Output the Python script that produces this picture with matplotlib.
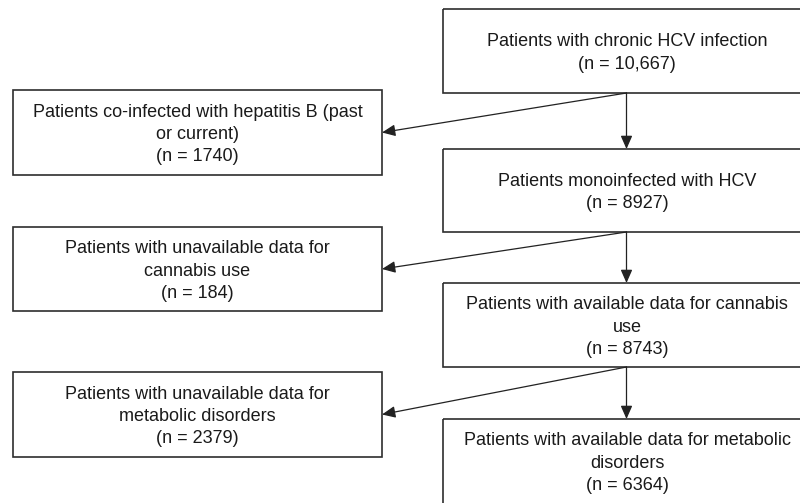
import matplotlib
matplotlib.use("Agg")
import matplotlib.pyplot as plt
from matplotlib.patches import Rectangle, FancyArrowPatch

# Data
main_labels = ["Patients with chronic HCV infection",
               "Patients monoinfected with HCV",
               "Patients with available data for cannabis\nuse",
               "Patients with available data for metabolic\ndisorders"]
main_counts = ["10,667", "8927", "8743", "6364"]
excl_labels = ["Patients co-infected with hepatitis B (past\nor current)",
               "Patients with unavailable data for\ncannabis use",
               "Patients with unavailable data for\nmetabolic disorders"]
excl_counts = ["1740", "184", "2379"]

# Layout (pixel coordinates)
W, H = 800, 503
main_x0, main_x1 = 443, 811
main_boxes = [(9, 93), (149, 232), (283, 367), (419, 519)]
excl_x0, excl_x1 = 13, 382
excl_boxes = [(90, 175), (227, 311), (372, 457)]
FONT = "Liberation Sans"
FS = 13.0
LS = 1.40
DY = 2
EC = "#2e2e2e"
TC = "#1a1a1a"

fig = plt.figure(figsize=(W / 100, H / 100), dpi=100)
ax = fig.add_axes([0, 0, 1, 1])
ax.set_xlim(0, W)
ax.set_ylim(H, 0)
ax.axis("off")

for (y0, y1), lab, n in zip(main_boxes, main_labels, main_counts):
    ax.add_patch(Rectangle((main_x0, y0), main_x1 - main_x0, y1 - y0, fill=False,
                           edgecolor=EC, linewidth=1.2))
    yc = (y0 + y1) / 2 - (8 if y1 > H else 0) + DY
    ax.text((main_x0 + main_x1) / 2, yc, f"{lab}\n(n = {n})", ha="center",
            va="center", fontsize=FS, family=FONT, color=TC, linespacing=LS)

for (y0, y1), lab, n in zip(excl_boxes, excl_labels, excl_counts):
    ax.add_patch(Rectangle((excl_x0, y0), excl_x1 - excl_x0, y1 - y0, fill=False,
                           edgecolor=EC, linewidth=1.2))
    ax.text((excl_x0 + excl_x1) / 2, (y0 + y1) / 2 + DY, f"{lab}\n(n = {n})",
            ha="center", va="center", fontsize=FS, family=FONT, color=TC,
            linespacing=LS)

cx = (main_x0 + main_x1) / 2 - 0.5
arrow_kw = dict(arrowstyle="-|>,head_length=0.5,head_width=0.22",
                color="#222222", linewidth=0.9, mutation_scale=16,
                shrinkA=0, shrinkB=0)
for i in range(3):
    ax.add_patch(FancyArrowPatch((cx, main_boxes[i][1]), (cx, main_boxes[i + 1][0]),
                                 **arrow_kw))
    ey = (excl_boxes[i][0] + excl_boxes[i][1]) / 2
    ax.add_patch(FancyArrowPatch((cx, main_boxes[i][1]), (excl_x1, ey), **arrow_kw))

fig.savefig("out.png", dpi=100, facecolor="white")
